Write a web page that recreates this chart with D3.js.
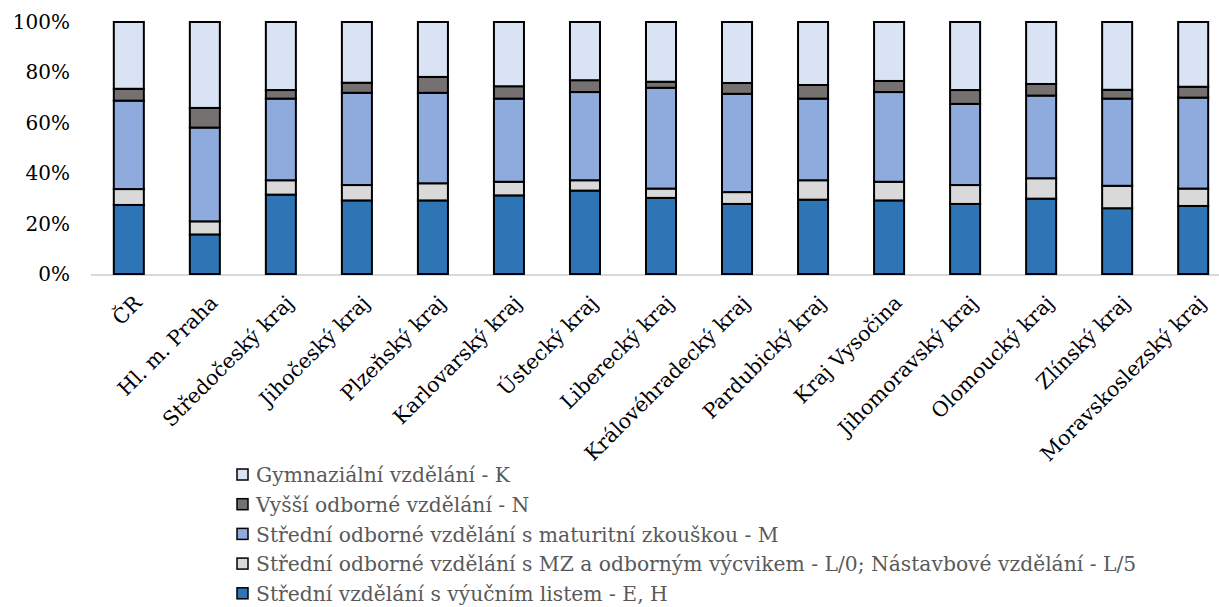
<!DOCTYPE html>
<html><head><meta charset="utf-8">
<script src="https://cdn.jsdelivr.net/npm/d3@7/dist/d3.min.js"></script>
<style>
body{margin:0;background:#fff;}
svg{display:block;font-family:"DejaVu Serif","Liberation Serif",serif;}
</style></head>
<body>
<svg id="chart" width="1219" height="607"></svg>
<script>
const categories = ["ČR","Hl. m. Praha","Středočeský kraj","Jihočeský kraj","Plzeňský kraj","Karlovarský kraj","Ústecký kraj","Liberecký kraj","Královéhradecký kraj","Pardubický kraj","Kraj Vysočina","Jihomoravský kraj","Olomoucký kraj","Zlínský kraj","Moravskoslezský kraj"];
const seriesNames = ["Střední vzdělání s výučním listem - E, H","Střední odborné vzdělání s MZ a odborným výcvikem - L/0; Nástavbové vzdělání - L/5","Střední odborné vzdělání s maturitní zkouškou - M","Vyšší odborné vzdělání - N","Gymnaziální vzdělání - K"];
const valsEH = [27.4,15.7,31.5,29.2,29.2,31.2,33.1,30.2,27.8,29.5,29.2,27.8,29.9,26.1,27.0];
const valsL  = [6.3,5.2,5.7,6.1,6.8,5.4,4.1,3.7,4.7,7.7,7.4,7.5,8.1,8.9,6.9];
const valsM  = [35.1,37.2,32.4,36.6,35.9,33.0,35.0,40.0,39.0,32.4,35.6,32.2,32.8,34.6,36.1];
const valsN  = [4.7,7.8,3.4,4.0,6.3,4.9,4.7,2.4,4.3,5.4,4.4,5.5,4.6,3.5,4.3];
const valsK  = [26.5,34.1,27.0,24.1,21.8,25.5,23.1,23.7,24.2,25.0,23.4,27.0,24.6,26.9,25.7];
const yTicks = [0,0.2,0.4,0.6,0.8,1.0];
const colors = ["#2E75B6","#D9D9D9","#8FAADC","#767171","#DAE3F3"];

const svg = d3.select("#chart");
const keys = ["EH","L","M","N","K"];
const rows = categories.map((c,i)=>{
  const tot = valsEH[i]+valsL[i]+valsM[i]+valsN[i]+valsK[i];
  return {cat:c, EH:valsEH[i]/tot, L:valsL[i]/tot, M:valsM[i]/tot, N:valsN[i]/tot, K:valsK[i]/tot};
});
const stack = d3.stack().keys(keys)(rows);

const x = d3.scaleBand().domain(categories).range([91,1231]).paddingInner(0.605).paddingOuter(0.3);
const y = d3.scaleLinear().domain([0,1]).range([274,22]);

// baseline
svg.append("line").attr("x1",91).attr("x2",1219).attr("y1",y(0)+1).attr("y2",y(0)+1)
  .attr("stroke","#D9D9D9").attr("stroke-width",2);

// bars
svg.append("g").selectAll("g").data(stack).join("g")
  .attr("fill",(d,i)=>colors[i])
  .selectAll("rect").data(d=>d).join("rect")
  .attr("x",d=>x(d.data.cat))
  .attr("y",d=>y(d[1]))
  .attr("width",x.bandwidth())
  .attr("height",d=>y(d[0])-y(d[1]))
  .attr("stroke","#000").attr("stroke-width",2);

// y axis
const yAxis = svg.append("g").attr("transform","translate(70,0)")
  .call(d3.axisLeft(y).tickValues(yTicks).tickFormat(d3.format(".0%")).tickSize(0).tickPadding(0));
yAxis.select(".domain").remove();
yAxis.selectAll("text").attr("font-size",20).attr("fill","#000").attr("font-family","DejaVu Serif");

// x axis
const xAxis = svg.append("g").attr("transform",`translate(0,${y(0)})`)
  .call(d3.axisBottom(x).tickSize(0).tickPadding(0));
xAxis.select(".domain").remove();
xAxis.selectAll("text").attr("font-size",20.5).attr("fill","#000").attr("font-family","DejaVu Serif")
  .attr("text-anchor","end")
  .attr("transform","translate(4,20) rotate(-45)")
  .attr("dy","0.7em").attr("dx","0");

// legend
const legOrder = [4,3,2,1,0];
const leg = svg.append("g").attr("transform","translate(237,475)");
const items = leg.selectAll("g").data(legOrder).join("g")
  .attr("transform",(d,i)=>`translate(0,${i*29.7})`);
items.append("rect").attr("x",0).attr("y",-6).attr("width",11).attr("height",11)
  .attr("fill",d=>colors[d]).attr("stroke","#000").attr("stroke-width",1.5);
items.append("text").attr("x",19).attr("y",0).attr("dy","0.35em")
  .attr("font-size",20.3).attr("fill","#595959")
  .text(d=>seriesNames[d]);
</script>
</body></html>
